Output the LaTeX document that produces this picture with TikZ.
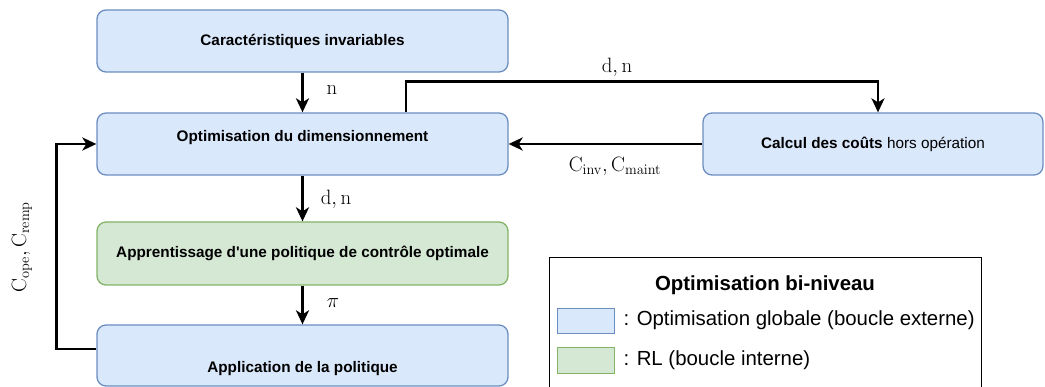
\documentclass[tikz,border=0pt]{standalone}
\usepackage[no-math]{fontspec}
\newfontfamily\arialfont{Liberation Sans}
\usetikzlibrary{arrows.meta}

\definecolor{blueFill}{HTML}{DAE8FC}
\definecolor{blueLine}{HTML}{6C8EBF}
\definecolor{greenFill}{HTML}{D5E8D4}
\definecolor{greenLine}{HTML}{82B366}

\begin{document}
\begin{tikzpicture}[x=1pt,y=-1pt,
        box/.style={rectangle,rounded corners=9pt,line width=1.3pt,
            minimum width=411pt,minimum height=62pt,inner sep=0pt,
            font=\arialfont\fontsize{15.3}{18}\selectfont},
        bluebox/.style={box,draw=blueLine,fill=blueFill},
        greenbox/.style={box,draw=greenLine,fill=greenFill},
        arr/.style={line width=2.6pt,-{Stealth[length=14pt,width=13pt,inset=4pt]}},
        lbl/.style={inner sep=0pt,font=\fontsize{21}{25}\selectfont},
        legtxt/.style={font=\arialfont\fontsize{20.4}{24}\selectfont}]
    \useasboundingbox (0,0) rectangle (1045,387);

	% boucle externe / interne
	\node (carac) [bluebox] at (302.5,41) {\bfseries Caractéristiques invariables};
	\node (dimens) [bluebox] at (302.5,144) {\raisebox{2.5pt}[0pt][0pt]{\bfseries Optimisation du dimensionnement}};
	\node (apprent) [greenbox,minimum height=63pt] at (302.5,253.5) {\bfseries Apprentissage d'une politique de contrôle optimale};
	\node (applic) [bluebox,minimum height=61pt] at (302.5,355.5) {\raisebox{-17pt}[0pt][0pt]{\bfseries Application de la politique}};
	\node (couts) [bluebox,minimum width=340pt] at (873,144) {{\bfseries Calcul des coûts} hors opération};

	\draw[arr] (carac) -- (dimens);
	\draw[arr] (dimens) -- (apprent);
	\draw[arr] (apprent) -- (applic);
	\draw[arr] ([xshift=103.5pt]dimens.north) -- ++(0,-31) -| ([xshift=5pt]couts.north);
	\draw[arr] (couts.west) -- (dimens.east);
	\draw[arr] ([yshift=6.5pt]applic.west) -- ++(-40,0) |- (dimens.west);

	\node (lbn) [lbl] at (332,90) {$\mathrm{n}$};
	\node (lbdn) [lbl] at (336,199) {$\mathrm{d, n}$};
	\node (lbpi) [lbl] at (333,303) {$\pi$};
	\node (lbdnhaut) [lbl] at (617,67) {$\mathrm{d, n}$};
	\node (lbcinv) [lbl] at (615,166) {$\mathrm{C_{inv}, C_{maint}}$};
	\node (lbcope) [lbl,rotate=90] at (22,247) {$\mathrm{C_{ope}, C_{remp}}$};

	% legende
	\node (legende) [draw,line width=1pt,minimum width=432pt,minimum height=143pt,
	    anchor=north west] at (549,257) {};
	\node (legtitre) [legtxt] at (765,285) {\bfseries Optimisation bi-niveau};
	\node (carreb) [draw=blueLine,fill=blueFill,line width=1.3pt,minimum width=57pt,
	    minimum height=25pt,anchor=north west] at (557,308) {};
	\node (carrev) [draw=greenLine,fill=greenFill,line width=1.3pt,minimum width=57pt,
	    minimum height=26pt,anchor=north west] at (557,347) {};
	\node (legb) [legtxt,anchor=west] at (620,320.5) {: Optimisation globale (boucle externe)};
	\node (legv) [legtxt,anchor=west] at (620,360) {: RL (boucle interne)};
\end{tikzpicture}
\end{document}
